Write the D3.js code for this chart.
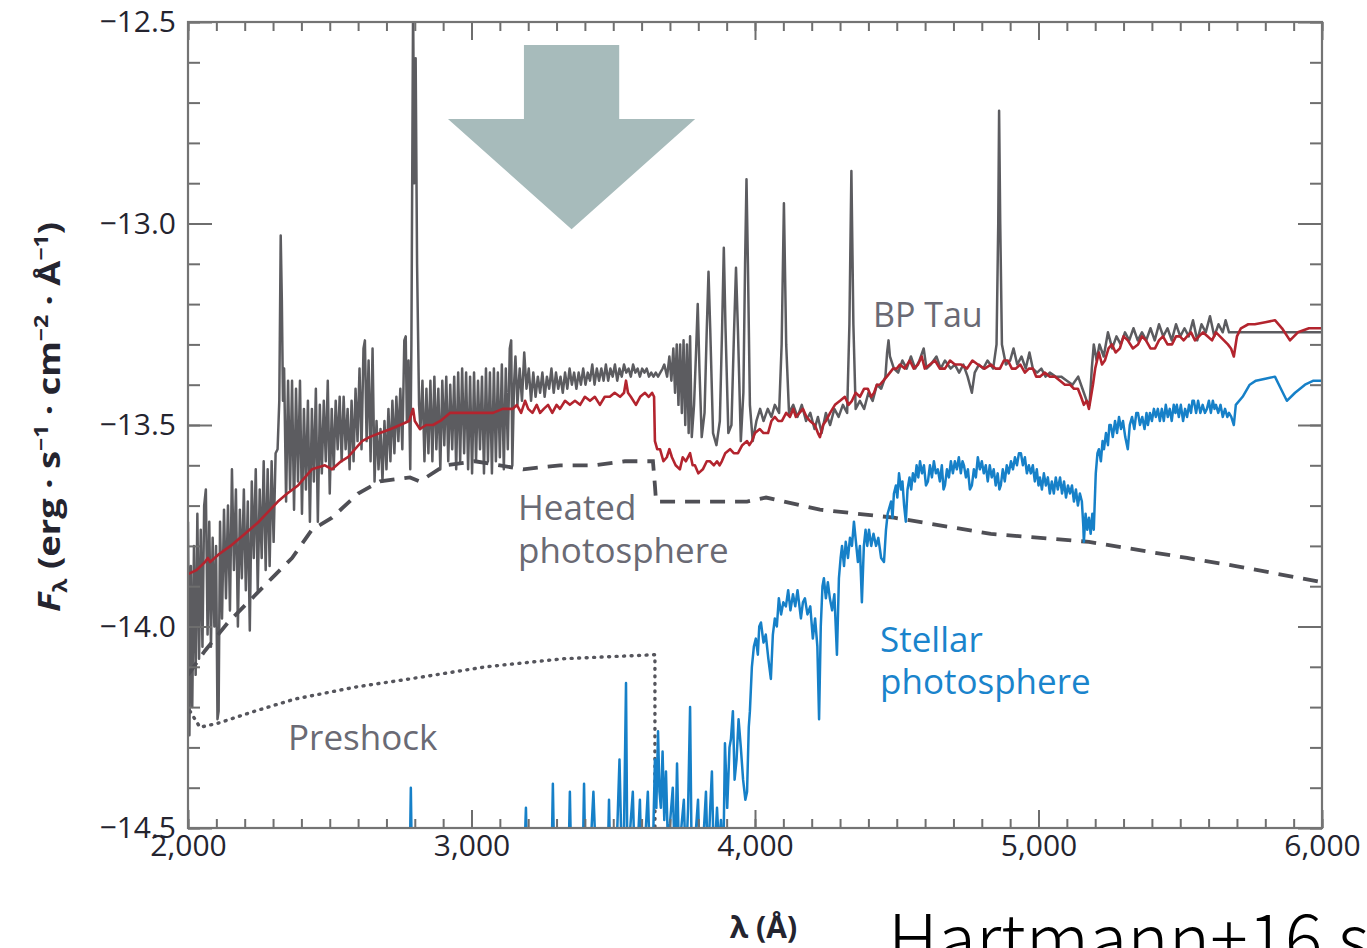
<!DOCTYPE html>
<html>
<head>
<meta charset="utf-8">
<script src="https://cdnjs.cloudflare.com/ajax/libs/d3/7.8.5/d3.min.js"></script>
<style>
body { margin: 0; background: #fff; }
svg { display: block; }
</style>
</head>
<body>
<svg width="1367" height="948"></svg>
<script>
// ---- data: [wavelength (A), log F_lambda] ----

// observed BP Tau spectrum (grey)
var bpTau = [
  [2000,-13.74],[2005,-14.27],[2010,-13.85],[2015,-14.20],[2021,-13.80],[2027,-14.12],[2033,-13.72],[2039,-14.08],
  [2045,-13.76],[2051,-14.05],[2057,-13.70],[2063,-13.66],[2069,-14.02],[2075,-13.74],[2081,-14.05],[2087,-13.78],
  [2093,-14.00],[2099,-13.80],[2104,-14.23],[2108,-14.21],[2113,-13.74],[2120,-13.98],[2127,-13.71],[2134,-13.93],
  [2141,-13.70],[2148,-13.96],[2155,-13.61],[2162,-13.86],[2169,-13.66],[2176,-14.00],[2183,-13.71],[2190,-13.88],
  [2197,-13.66],[2204,-13.91],[2211,-13.69],[2218,-14.01],[2225,-13.64],[2232,-13.83],[2239,-13.61],[2246,-13.91],
  [2253,-13.66],[2260,-13.83],[2267,-13.59],[2274,-13.86],[2281,-13.61],[2288,-13.85],[2295,-13.59],[2302,-13.79],
  [2309,-13.57],[2316,-13.56],[2322,-13.44],[2327,-13.03],[2331,-13.19],[2335,-13.44],[2339,-13.36],[2346,-13.69],
  [2353,-13.39],[2360,-13.66],[2367,-13.39],[2374,-13.71],[2381,-13.41],[2388,-13.64],[2395,-13.39],[2402,-13.72],
  [2409,-13.46],[2416,-13.66],[2423,-13.44],[2430,-13.74],[2437,-13.46],[2444,-13.64],[2451,-13.41],[2458,-13.74],
  [2465,-13.45],[2472,-13.62],[2479,-13.44],[2486,-13.59],[2493,-13.39],[2500,-13.67],[2507,-13.46],[2514,-13.61],
  [2521,-13.44],[2528,-13.56],[2535,-13.43],[2542,-13.59],[2549,-13.43],[2556,-13.56],[2563,-13.46],[2570,-13.61],
  [2577,-13.44],[2584,-13.59],[2591,-13.41],[2598,-13.54],[2605,-13.36],[2612,-13.56],[2619,-13.31],[2624,-13.29],
  [2630,-13.54],[2637,-13.34],[2644,-13.59],[2651,-13.31],[2658,-13.64],[2665,-13.49],[2672,-13.61],[2679,-13.51],
  [2686,-13.64],[2693,-13.49],[2700,-13.61],[2707,-13.46],[2714,-13.59],[2721,-13.44],[2728,-13.57],[2735,-13.43],
  [2742,-13.54],[2749,-13.41],[2756,-13.56],[2763,-13.29],[2768,-13.28],[2772,-13.49],[2778,-13.34],[2784,-13.61],
  [2788,-13.30],[2794,-12.45],[2798,-12.90],[2803,-12.59],[2808,-13.10],[2815,-13.45],[2820,-13.51],[2827,-13.39],
  [2834,-13.59],[2841,-13.41],[2848,-13.57],[2855,-13.39],[2862,-13.59],[2869,-13.38],[2876,-13.56],[2883,-13.41],
  [2890,-13.61],[2897,-13.39],[2904,-13.55],[2911,-13.38],[2918,-13.59],[2925,-13.40],[2932,-13.56],[2939,-13.38],
  [2946,-13.61],[2953,-13.37],[2960,-13.59],[2967,-13.36],[2974,-13.57],[2981,-13.37],[2988,-13.61],[2995,-13.38],
  [3002,-13.62],[3009,-13.37],[3016,-13.59],[3023,-13.39],[3030,-13.56],[3037,-13.38],[3044,-13.62],[3051,-13.36],
  [3058,-13.59],[3065,-13.37],[3072,-13.62],[3079,-13.36],[3086,-13.59],[3093,-13.37],[3100,-13.58],[3107,-13.35],
  [3114,-13.61],[3121,-13.36],[3128,-13.56],[3135,-13.31],[3140,-13.29],[3144,-13.60],[3150,-13.40],
  [3155,-13.33],[3162,-13.45],[3170,-13.36],[3178,-13.44],[3186,-13.32],[3194,-13.41],[3202,-13.36],[3210,-13.44],
  [3218,-13.37],[3226,-13.43],[3234,-13.38],[3242,-13.42],[3250,-13.37],[3258,-13.43],[3266,-13.38],[3274,-13.41],
  [3282,-13.36],[3290,-13.42],[3298,-13.37],[3306,-13.41],[3314,-13.38],[3322,-13.42],[3330,-13.37],[3338,-13.41],
  [3346,-13.36],[3354,-13.40],[3362,-13.37],[3370,-13.41],[3378,-13.37],[3386,-13.40],[3394,-13.36],[3402,-13.40],
  [3410,-13.37],[3418,-13.39],[3426,-13.35],[3434,-13.40],[3442,-13.36],[3450,-13.39],[3458,-13.36],[3466,-13.39],
  [3474,-13.35],[3482,-13.39],[3490,-13.36],[3498,-13.38],[3506,-13.35],[3514,-13.39],[3522,-13.36],[3530,-13.38],
  [3538,-13.35],[3546,-13.37],[3554,-13.36],[3562,-13.38],[3570,-13.35],[3578,-13.37],[3586,-13.36],[3594,-13.38],
  [3602,-13.36],[3610,-13.37],[3618,-13.36],[3626,-13.38],[3634,-13.37],[3642,-13.38],[3650,-13.37],[3658,-13.38],
  [3666,-13.37],[3674,-13.36],
  [3680,-13.35],[3690,-13.38],[3698,-13.33],[3705,-13.39],[3712,-13.31],[3718,-13.42],[3724,-13.30],[3730,-13.45],
  [3736,-13.30],[3742,-13.47],[3748,-13.29],[3754,-13.50],[3760,-13.30],[3766,-13.52],[3771,-13.28],[3777,-13.53],
  [3785,-13.45],[3792,-13.32],[3798,-13.20],[3804,-13.36],[3812,-13.53],[3822,-13.47],[3830,-13.26],[3836,-13.12],
  [3842,-13.26],[3852,-13.52],[3864,-13.55],[3876,-13.49],[3884,-13.26],[3890,-13.06],[3896,-13.26],[3906,-13.52],
  [3917,-13.50],[3926,-13.27],[3933,-13.11],[3940,-13.27],[3950,-13.54],[3959,-13.42],[3965,-13.10],[3970,-12.89],
  [3975,-13.10],[3982,-13.45],[3992,-13.54],
  [4005,-13.49],[4018,-13.46],[4030,-13.49],[4045,-13.46],[4058,-13.48],[4070,-13.45],[4085,-13.47],[4094,-13.30],
  [4102,-12.95],[4110,-13.30],[4120,-13.47],[4135,-13.45],[4150,-13.48],[4165,-13.45],[4180,-13.49],[4195,-13.47],
  [4210,-13.51],[4222,-13.48],[4235,-13.52],[4250,-13.47],[4265,-13.50],[4280,-13.46],[4295,-13.48],[4310,-13.45],
  [4325,-13.47],[4333,-13.25],[4340,-12.87],[4347,-13.25],[4355,-13.46],[4370,-13.44],[4385,-13.46],[4400,-13.42],
  [4415,-13.44],[4430,-13.40],[4445,-13.41],[4460,-13.38],[4466,-13.32],[4471,-13.29],[4476,-13.33],[4490,-13.36],
  [4505,-13.37],[4520,-13.34],[4535,-13.36],[4550,-13.33],[4565,-13.36],[4580,-13.34],[4595,-13.31],[4605,-13.36],
  [4620,-13.35],[4640,-13.33],[4655,-13.36],[4670,-13.34],[4690,-13.36],[4705,-13.35],[4720,-13.37],[4735,-13.35],
  [4750,-13.38],[4765,-13.42],[4775,-13.37],[4790,-13.35],[4805,-13.36],[4820,-13.34],[4840,-13.36],[4852,-13.30],
  [4858,-13.00],[4861,-12.72],[4865,-13.00],[4871,-13.30],[4885,-13.35],[4900,-13.34],[4912,-13.31],[4925,-13.35],
  [4940,-13.33],[4955,-13.36],[4968,-13.32],[4980,-13.36],[4995,-13.37],[5010,-13.36],[5025,-13.38],[5040,-13.37],
  [5060,-13.38],[5080,-13.38],[5100,-13.39],[5120,-13.40],[5140,-13.38],[5155,-13.41],[5170,-13.44],[5180,-13.45],
  [5188,-13.36],[5195,-13.30],[5205,-13.34],[5215,-13.30],[5230,-13.33],[5245,-13.27],[5260,-13.31],[5275,-13.28],
  [5290,-13.30],[5305,-13.27],[5320,-13.29],[5335,-13.26],[5350,-13.29],[5365,-13.27],[5380,-13.29],[5395,-13.26],
  [5410,-13.29],[5425,-13.25],[5440,-13.28],[5455,-13.26],[5470,-13.29],[5485,-13.25],[5500,-13.28],[5515,-13.26],
  [5530,-13.28],[5545,-13.24],[5560,-13.29],[5575,-13.25],[5590,-13.27],[5605,-13.23],[5620,-13.28],[5635,-13.25],
  [5650,-13.27],[5660,-13.24],[5672,-13.27],[5690,-13.27],[5750,-13.27],[6000,-13.27]
];

// total accretion + star model (red)
var modelTotal = [
  [2000,-13.87],[2030,-13.86],[2060,-13.84],[2070,-13.83],[2078,-13.84],[2110,-13.82],[2150,-13.80],[2201,-13.77],
  [2250,-13.74],[2317,-13.69],[2350,-13.67],[2388,-13.65],[2437,-13.61],[2483,-13.60],[2508,-13.61],[2540,-13.59],
  [2564,-13.58],[2614,-13.54],[2640,-13.53],[2677,-13.52],[2715,-13.51],[2748,-13.50],[2780,-13.49],[2794,-13.46],
  [2800,-13.49],[2818,-13.51],[2840,-13.50],[2864,-13.50],[2890,-13.49],[2924,-13.47],[2960,-13.47],[2995,-13.47],
  [3030,-13.47],[3076,-13.47],[3110,-13.46],[3146,-13.46],[3160,-13.45],[3175,-13.47],[3189,-13.44],[3200,-13.46],
  [3215,-13.47],[3230,-13.45],[3242,-13.47],[3255,-13.46],[3270,-13.45],[3285,-13.47],[3300,-13.45],[3312,-13.46],
  [3330,-13.44],[3347,-13.45],[3365,-13.44],[3383,-13.45],[3400,-13.43],[3418,-13.44],[3435,-13.43],[3453,-13.45],
  [3470,-13.43],[3488,-13.43],[3505,-13.42],[3524,-13.43],[3538,-13.42],[3545,-13.39],[3552,-13.42],[3562,-13.43],
  [3580,-13.45],[3595,-13.43],[3612,-13.42],[3625,-13.43],[3637,-13.42],[3644,-13.43],[3647,-13.54],[3655,-13.56],
  [3665,-13.56],[3677,-13.59],[3689,-13.58],[3698,-13.56],[3707,-13.58],[3720,-13.60],[3735,-13.61],[3745,-13.58],
  [3756,-13.59],[3771,-13.57],[3780,-13.60],[3788,-13.60],[3800,-13.62],[3816,-13.61],[3830,-13.59],[3841,-13.59],
  [3855,-13.60],[3866,-13.59],[3875,-13.60],[3883,-13.59],[3895,-13.57],[3912,-13.56],[3925,-13.57],[3940,-13.57],
  [3955,-13.55],[3972,-13.54],[3980,-13.55],[3989,-13.54],[4000,-13.52],[4017,-13.51],[4030,-13.52],[4046,-13.52],
  [4058,-13.49],[4070,-13.48],[4082,-13.49],[4095,-13.49],[4110,-13.47],[4123,-13.48],[4135,-13.46],[4144,-13.48],
  [4157,-13.47],[4169,-13.46],[4182,-13.48],[4194,-13.49],[4211,-13.50],[4222,-13.52],[4229,-13.53],[4240,-13.50],
  [4250,-13.49],[4265,-13.47],[4282,-13.45],[4300,-13.44],[4317,-13.43],[4330,-13.45],[4342,-13.44],[4355,-13.42],
  [4370,-13.43],[4385,-13.41],[4398,-13.41],[4410,-13.43],[4420,-13.42],[4430,-13.40],[4441,-13.40],[4453,-13.39],
  [4465,-13.38],[4476,-13.37],[4487,-13.36],[4500,-13.36],[4511,-13.35],[4528,-13.36],[4546,-13.34],[4560,-13.36],
  [4575,-13.35],[4588,-13.33],[4599,-13.36],[4617,-13.35],[4635,-13.34],[4652,-13.36],[4670,-13.36],[4688,-13.34],
  [4705,-13.35],[4727,-13.35],[4748,-13.36],[4767,-13.34],[4786,-13.35],[4810,-13.36],[4832,-13.35],[4848,-13.36],
  [4864,-13.36],[4878,-13.34],[4892,-13.34],[4906,-13.36],[4920,-13.36],[4936,-13.35],[4952,-13.37],[4966,-13.36],
  [4980,-13.36],[4992,-13.38],[5005,-13.38],[5022,-13.37],[5040,-13.38],[5058,-13.38],[5076,-13.39],[5093,-13.40],
  [5111,-13.40],[5125,-13.41],[5139,-13.41],[5150,-13.43],[5160,-13.45],[5170,-13.44],[5178,-13.46],[5185,-13.43],
  [5192,-13.40],[5200,-13.36],[5213,-13.32],[5224,-13.35],[5234,-13.34],[5247,-13.31],[5259,-13.30],[5272,-13.32],
  [5287,-13.31],[5300,-13.28],[5315,-13.29],[5333,-13.31],[5351,-13.30],[5365,-13.28],[5379,-13.29],[5395,-13.31],
  [5411,-13.31],[5425,-13.29],[5439,-13.28],[5455,-13.30],[5471,-13.30],[5485,-13.28],[5499,-13.28],[5512,-13.29],
  [5524,-13.28],[5538,-13.27],[5552,-13.29],[5566,-13.28],[5580,-13.27],[5596,-13.28],[5612,-13.29],[5626,-13.27],
  [5640,-13.28],[5654,-13.29],[5668,-13.30],[5679,-13.31],[5689,-13.33],[5700,-13.28],[5714,-13.26],[5740,-13.25],
  [5763,-13.25],[5800,-13.245],[5834,-13.24],[5859,-13.26],[5887,-13.29],[5915,-13.27],[5954,-13.26],[6000,-13.26]
];

// stellar photosphere template (blue)
var stellarPhot = [
  [2770,-14.60],[2782,-14.60],[2786,-14.40],[2790,-14.60],[3185,-14.60],[3192,-14.45],[3197,-14.60],[3282,-14.60],
  [3287,-14.39],[3292,-14.60],[3342,-14.60],[3347,-14.41],[3352,-14.60],[3392,-14.60],[3397,-14.39],[3402,-14.60],
  [3420,-14.55],[3430,-14.41],[3440,-14.60],[3480,-14.60],[3485,-14.43],[3490,-14.60],[3512,-14.55],[3522,-14.33],
  [3530,-14.58],[3538,-14.50],[3545,-14.14],[3550,-14.60],[3562,-14.48],[3569,-14.41],[3576,-14.60],[3588,-14.52],
  [3594,-14.43],[3600,-14.60],[3615,-14.50],[3622,-14.41],[3630,-14.60],[3640,-14.55],[3647,-14.33],[3652,-14.45],
  [3658,-14.26],[3663,-14.41],[3668,-14.45],[3674,-14.31],[3680,-14.48],[3686,-14.36],[3692,-14.52],[3700,-14.49],
  [3710,-14.40],[3718,-14.60],[3725,-14.34],[3732,-14.58],[3740,-14.50],[3749,-14.43],[3756,-14.60],[3764,-14.45],
  [3771,-14.20],[3777,-14.60],[3790,-14.52],[3799,-14.43],[3806,-14.60],[3820,-14.50],[3827,-14.41],[3834,-14.60],
  [3842,-14.45],[3848,-14.36],[3855,-14.60],[3866,-14.45],[3873,-14.55],[3880,-14.48],[3888,-14.60],[3894,-14.29],
  [3902,-14.45],[3910,-14.30],[3915,-14.28],[3922,-14.21],[3928,-14.38],[3935,-14.33],[3942,-14.23],[3950,-14.30],
  [3958,-14.38],[3966,-14.43],[3972,-14.41],[3978,-14.25],[3982,-14.21],
  [3989,-14.10],[3996,-14.05],[4003,-14.03],[4010,-14.07],[4015,-14.00],[4021,-13.99],[4030,-14.04],[4038,-14.02],
  [4047,-14.08],[4056,-14.13],[4063,-14.02],[4070,-13.98],[4077,-14.00],[4084,-13.93],[4092,-13.97],[4100,-13.94],
  [4109,-13.95],[4117,-13.91],[4125,-13.96],[4134,-13.92],[4142,-13.95],[4150,-13.91],[4162,-13.98],[4169,-13.94],
  [4176,-13.93],[4185,-13.97],[4195,-13.95],[4204,-14.03],[4212,-13.98],[4220,-14.05],[4226,-14.23],[4232,-14.00],
  [4238,-13.90],[4243,-13.88],[4250,-13.93],[4257,-13.89],[4264,-13.93],[4272,-13.96],[4280,-13.92],[4289,-14.07],
  [4296,-13.88],[4302,-13.83],[4307,-13.80],[4314,-13.85],[4320,-13.79],[4328,-13.83],[4335,-13.78],[4342,-13.80],
  [4349,-13.74],[4356,-13.79],[4363,-13.84],[4370,-13.80],[4377,-13.94],[4384,-13.80],[4390,-13.76],[4396,-13.80],
  [4402,-13.76],[4410,-13.80],[4418,-13.77],[4427,-13.80],[4435,-13.78],[4445,-13.83],[4455,-13.84],[4462,-13.76],
  [4468,-13.72],[4472,-13.71],[4480,-13.69],[4485,-13.73],[4490,-13.67],[4497,-13.65],[4502,-13.68],[4508,-13.62],
  [4515,-13.66],[4520,-13.64],[4526,-13.70],[4532,-13.74],[4538,-13.66],[4545,-13.63],[4551,-13.66],[4557,-13.62],
  [4564,-13.64],[4570,-13.60],[4576,-13.63],[4582,-13.59],[4589,-13.62],[4596,-13.60],[4603,-13.65],[4610,-13.64],
  [4617,-13.60],[4624,-13.63],[4631,-13.59],[4638,-13.62],[4645,-13.61],[4652,-13.64],[4659,-13.60],[4665,-13.66],
  [4670,-13.65],[4677,-13.61],[4684,-13.63],[4691,-13.59],[4698,-13.62],[4705,-13.59],[4712,-13.61],[4719,-13.58],
  [4726,-13.62],[4732,-13.59],[4737,-13.60],[4744,-13.63],[4751,-13.61],[4758,-13.66],[4765,-13.65],[4772,-13.61],
  [4779,-13.63],[4786,-13.58],[4793,-13.61],[4800,-13.59],[4807,-13.62],[4814,-13.60],[4821,-13.64],[4828,-13.60],
  [4835,-13.63],[4842,-13.61],[4849,-13.65],[4856,-13.62],[4862,-13.66],[4867,-13.65],[4874,-13.61],[4881,-13.64],
  [4888,-13.60],[4895,-13.62],[4903,-13.59],[4910,-13.61],[4917,-13.58],[4924,-13.60],[4931,-13.57],[4938,-13.57],
  [4945,-13.60],[4952,-13.58],[4959,-13.62],[4966,-13.60],[4973,-13.62],[4980,-13.60],[4987,-13.64],[4994,-13.61],
  [5000,-13.65],[5005,-13.63],[5012,-13.66],[5019,-13.62],[5026,-13.65],[5033,-13.63],[5040,-13.67],[5047,-13.64],
  [5054,-13.67],[5061,-13.63],[5068,-13.66],[5076,-13.63],[5083,-13.67],[5090,-13.64],[5097,-13.68],[5104,-13.65],
  [5111,-13.67],[5118,-13.65],[5125,-13.69],[5132,-13.66],[5139,-13.70],[5146,-13.67],[5153,-13.69],[5158,-13.75],
  [5160,-13.79],[5166,-13.72],[5172,-13.76],[5178,-13.73],[5184,-13.77],[5190,-13.72],[5195,-13.76],[5202,-13.62],
  [5208,-13.57],[5213,-13.56],[5220,-13.59],[5226,-13.54],[5231,-13.56],[5238,-13.52],[5245,-13.55],[5250,-13.50],
  [5255,-13.50],[5262,-13.53],[5270,-13.49],[5277,-13.52],[5284,-13.48],[5291,-13.51],[5298,-13.49],[5306,-13.53],
  [5315,-13.56],[5322,-13.50],[5330,-13.48],[5338,-13.51],[5345,-13.47],[5351,-13.47],[5358,-13.50],[5366,-13.48],
  [5374,-13.51],[5381,-13.47],[5386,-13.50],[5393,-13.47],[5400,-13.49],[5407,-13.46],[5414,-13.48],[5421,-13.46],
  [5428,-13.49],[5435,-13.46],[5442,-13.49],[5449,-13.45],[5456,-13.48],[5463,-13.46],[5470,-13.49],[5477,-13.45],
  [5483,-13.47],[5488,-13.45],[5495,-13.48],[5502,-13.45],[5510,-13.49],[5517,-13.46],[5524,-13.48],[5531,-13.45],
  [5538,-13.47],[5543,-13.44],[5548,-13.44],[5556,-13.47],[5563,-13.44],[5571,-13.47],[5579,-13.45],[5587,-13.47],
  [5594,-13.46],[5601,-13.44],[5608,-13.47],[5615,-13.44],[5621,-13.46],[5626,-13.45],[5634,-13.47],[5642,-13.45],
  [5650,-13.48],[5658,-13.46],[5666,-13.48],[5672,-13.47],[5680,-13.48],[5689,-13.50],[5696,-13.45],[5720,-13.43],
  [5745,-13.40],[5767,-13.39],[5800,-13.385],[5834,-13.38],[5855,-13.41],[5876,-13.44],[5905,-13.42],[5940,-13.40],
  [5970,-13.39],[6000,-13.39]
];

// heated photosphere (dashed)
var heatedPhot = [
  [2000,-14.12],[2060,-14.06],[2141,-13.99],[2226,-13.93],[2296,-13.88],[2367,-13.83],[2437,-13.76],[2508,-13.73],
  [2600,-13.67],[2677,-13.64],[2783,-13.63],[2818,-13.64],[2906,-13.60],[3012,-13.59],[3100,-13.60],[3182,-13.61],
  [3312,-13.60],[3435,-13.60],[3541,-13.59],[3640,-13.59],[3647,-13.65],[3651,-13.69],[3806,-13.69],[3972,-13.69],
  [4039,-13.68],[4229,-13.71],[4490,-13.73],[4832,-13.77],[5178,-13.79],[5524,-13.83],[5696,-13.85],[6000,-13.89]
];

// preshock (dotted)
var preshock = [
  [2007,-14.21],[2042,-14.25],[2106,-14.24],[2236,-14.21],[2377,-14.18],[2593,-14.15],[2783,-14.13],[3051,-14.10],
  [3323,-14.08],[3647,-14.07],[3647,-14.50]
];

// big arrow: [centre wavelength, shaft half width, head half width, top, neck, tip]
var arrowSpec = [3353, 168, 436, -12.557, -12.741, -13.014];

var xTicks = [2000, 3000, 4000, 5000, 6000];
var yTicks = [-14.5, -14.0, -13.5, -13.0, -12.5];

// labels: [text, wavelength, logF, colour]
var curveLabels = [
  ['BP Tau', 4416, -13.257, '#6a6a74'],
  ['Heated', 3164, -13.736, '#6a6a74'],
  ['photosphere', 3164, -13.842, '#6a6a74'],
  ['Preshock', 2353, -14.306, '#6a6a74'],
  ['Stellar', 4441, -14.063, '#1a84cc'],
  ['photosphere', 4441, -14.167, '#1a84cc']
];

var svg = d3.select('svg');

var svgWidth = +svg.attr('width');
var svgHeight = +svg.attr('height');

var padding = {t: 22, r: 45, b: 120, l: 188};

var chartWidth = svgWidth - padding.l - padding.r;
var chartHeight = svgHeight - padding.t - padding.b;

var chartG = svg.append('g')
    .attr('transform', 'translate('+[padding.l, padding.t]+')');

var xScale = d3.scaleLinear().domain([2000, 6000]).range([0, chartWidth]);
var yScale = d3.scaleLinear().domain([-14.5, -12.5]).range([chartHeight, 0]);

var tickFont = "'Open Sans', 'Noto Sans', sans-serif";
var tickColor = '#24242f';

chartG.append('clipPath')
    .attr('id', 'plot-clip')
    .append('rect')
    .attr('width', chartWidth)
    .attr('height', chartHeight);

var plotG = chartG.append('g').attr('clip-path', 'url(#plot-clip)');

var line = d3.line()
    .x(function(d) { return xScale(d[0]); })
    .y(function(d) { return yScale(d[1]); });

// arrow
var a = arrowSpec;
var arrowPts = [
    [a[0]-a[1], a[3]], [a[0]+a[1], a[3]], [a[0]+a[1], a[4]], [a[0]+a[2], a[4]],
    [a[0], a[5]], [a[0]-a[2], a[4]], [a[0]-a[1], a[4]]
];
plotG.append('path')
    .attr('d', line(arrowPts) + 'Z')
    .attr('fill', '#a7bbbb');

plotG.append('path')
    .datum(bpTau)
    .attr('d', line)
    .attr('fill', 'none')
    .attr('stroke', '#5c5c60')
    .attr('stroke-width', 2.5)
    .attr('stroke-linejoin', 'round');

plotG.append('path')
    .datum(heatedPhot)
    .attr('d', line)
    .attr('fill', 'none')
    .attr('stroke', '#4f4f55')
    .attr('stroke-width', 3.8)
    .attr('stroke-dasharray', '15,10');

plotG.append('path')
    .datum(preshock)
    .attr('d', line)
    .attr('fill', 'none')
    .attr('stroke', '#55555c')
    .attr('stroke-width', 3.4)
    .attr('stroke-linecap', 'round')
    .attr('stroke-dasharray', '1,6.5');

plotG.append('path')
    .datum(modelTotal)
    .attr('d', line)
    .attr('fill', 'none')
    .attr('stroke', '#b3242e')
    .attr('stroke-width', 2.6)
    .attr('stroke-linejoin', 'round');

plotG.append('path')
    .datum(stellarPhot)
    .attr('d', line)
    .attr('fill', 'none')
    .attr('stroke', '#1680c8')
    .attr('stroke-width', 2.5)
    .attr('stroke-linejoin', 'round');

// curve labels
chartG.selectAll('.curve-label')
    .data(curveLabels)
    .enter().append('text')
    .attr('class', 'curve-label')
    .attr('x', function(d) { return xScale(d[1]); })
    .attr('y', function(d) { return yScale(d[2]); })
    .attr('fill', function(d) { return d[3]; })
    .style('font-family', tickFont)
    .style('font-size', function(d) { return d[0] == 'BP Tau' ? '34px' : '35px'; })
    .text(function(d) { return d[0]; });

// axes, ticks pointing inward on all four sides
var xMinor = d3.range(2000, 6001, 100);
var yMinor = d3.range(0, 21).map(function(i) { return -14.5 + i * 0.1; });

function styleAxis(g) {
    g.select('.domain').remove();
    g.selectAll('.tick line').attr('stroke', '#6e6e6e').attr('stroke-width', 2);
    g.attr('font-family', tickFont).attr('font-size', 30);
    g.selectAll('.tick text').attr('fill', tickColor);
    return g;
}

chartG.append('g').attr('transform', 'translate(0,'+chartHeight+')')
    .call(d3.axisBottom(xScale).tickValues(xMinor).tickSize(-9).tickFormat(''))
    .call(styleAxis);
chartG.append('g').attr('transform', 'translate(0,'+chartHeight+')')
    .call(d3.axisBottom(xScale).tickValues(xTicks).tickSize(-18).tickPadding(7).tickFormat(d3.format(',')))
    .call(styleAxis);
chartG.append('g')
    .call(d3.axisTop(xScale).tickValues(xMinor).tickSize(-9).tickFormat(''))
    .call(styleAxis);
chartG.append('g')
    .call(d3.axisTop(xScale).tickValues(xTicks).tickSize(-18).tickFormat(''))
    .call(styleAxis);

chartG.append('g')
    .call(d3.axisLeft(yScale).tickValues(yMinor).tickSize(-12).tickFormat(''))
    .call(styleAxis);
chartG.append('g')
    .call(d3.axisLeft(yScale).tickValues(yTicks).tickSize(-24).tickPadding(12).tickFormat(d3.format('.1f')))
    .call(styleAxis);
chartG.append('g').attr('transform', 'translate('+chartWidth+',0)')
    .call(d3.axisRight(yScale).tickValues(yMinor).tickSize(-12).tickFormat(''))
    .call(styleAxis);
chartG.append('g').attr('transform', 'translate('+chartWidth+',0)')
    .call(d3.axisRight(yScale).tickValues(yTicks).tickSize(-24).tickFormat(''))
    .call(styleAxis);

chartG.append('rect')
    .attr('width', chartWidth)
    .attr('height', chartHeight)
    .attr('fill', 'none')
    .attr('stroke', '#747474')
    .attr('stroke-width', 2.2);

// y axis title
var yTitle = svg.append('text')
    .attr('transform', 'translate(60,' + (padding.t + chartHeight * 0.49) + ') rotate(-90)')
    .attr('text-anchor', 'middle')
    .attr('textLength', 390)
    .attr('lengthAdjust', 'spacingAndGlyphs')
    .attr('fill', tickColor)
    .style('font-family', tickFont)
    .style('font-weight', 700)
    .style('font-size', '30px');
yTitle.append('tspan').style('font-style', 'italic').text('F');
yTitle.append('tspan').attr('dy', 7).style('font-size', '19px').text('λ');
yTitle.append('tspan').attr('dy', -7).text(' (erg · s');
yTitle.append('tspan').attr('dy', -12).style('font-size', '19px').text('−1');
yTitle.append('tspan').attr('dy', 12).text(' · cm');
yTitle.append('tspan').attr('dy', -12).style('font-size', '19px').text('−2');
yTitle.append('tspan').attr('dy', 12).text(' · Å');
yTitle.append('tspan').attr('dy', -12).style('font-size', '19px').text('−1');
yTitle.append('tspan').attr('dy', 12).text(')');

// x axis title
svg.append('text')
    .attr('x', padding.l + xScale(4030))
    .attr('y', 938)
    .attr('text-anchor', 'middle')
    .attr('fill', tickColor)
    .style('font-family', tickFont)
    .style('font-weight', 700)
    .style('font-size', '30px')
    .text('λ (Å)');

// source note, cut off by the page edge as in the original
svg.append('text')
    .attr('x', 888)
    .attr('y', 965)
    .attr('fill', '#000')
    .style('font-family', "'Noto Sans CJK JP', sans-serif")
    .style('font-weight', 300)
    .style('font-size', '70px')
    .text('Hartmann+16 sc');
</script>
</body>
</html>
